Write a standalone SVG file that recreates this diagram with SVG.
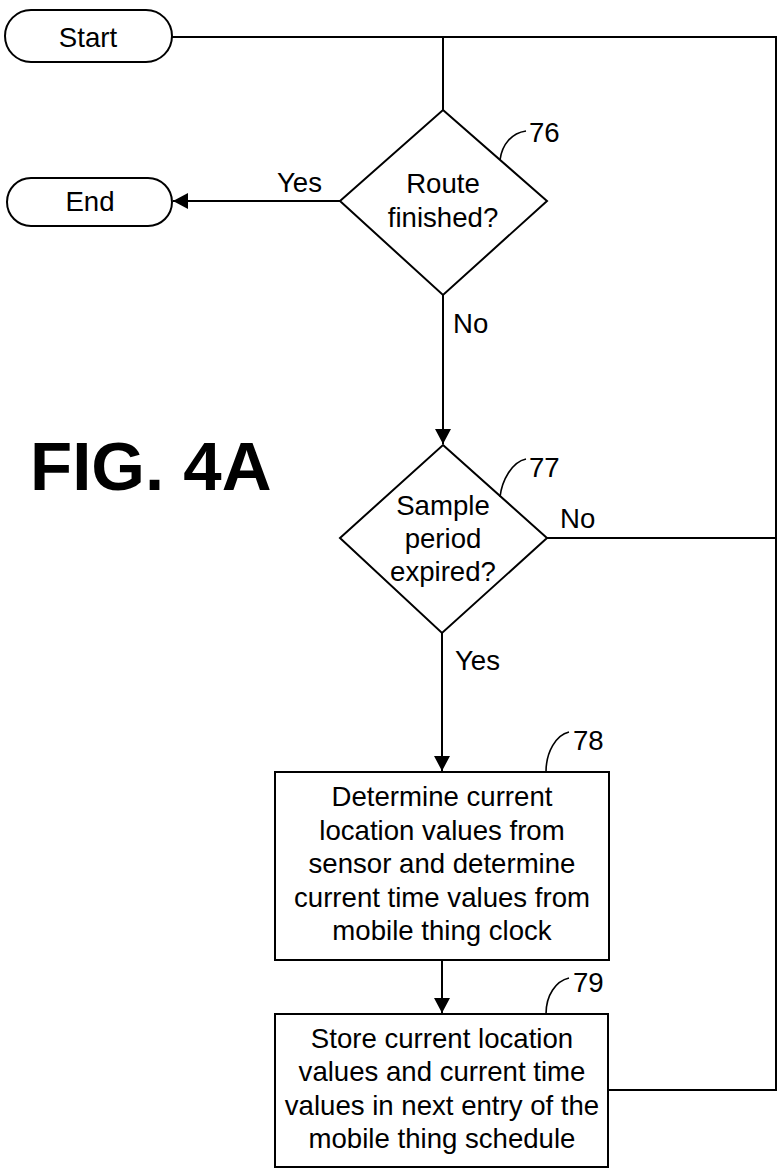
<svg xmlns="http://www.w3.org/2000/svg" width="778" height="1170" viewBox="0 0 778 1170">
<style>
.s{fill:#fff;stroke:#000;stroke-width:2}
.c{fill:none;stroke:#000;stroke-width:2}
.l{fill:none;stroke:#000;stroke-width:1.6}
text{font-family:"Liberation Sans",Arial,sans-serif;font-size:27.6px;fill:#000}
.m{text-anchor:middle}
.fig{font-weight:bold;font-size:69px}
</style>
<defs>
<marker id="a" markerWidth="16" markerHeight="16" refX="15" refY="8" orient="auto" markerUnits="userSpaceOnUse">
<path d="M0,0 L15,8 L0,16 Z" fill="#000"/>
</marker>
</defs>
<rect width="778" height="1170" fill="#fff"/>
<g id="connectors">
<path class="c" d="M172,37 H776 V1090 H608"/>
<path class="c" d="M443,37 V110"/>
<path class="c" d="M547,538 H776"/>
<path class="c" d="M340,201 H173" marker-end="url(#a)"/>
<path class="c" d="M443,295 V444" marker-end="url(#a)"/>
<path class="c" d="M442,633 V771" marker-end="url(#a)"/>
<path class="c" d="M442,960 V1013" marker-end="url(#a)"/>
<text x="277" y="192">Yes</text>
<text x="453" y="333">No</text>
<text x="560" y="528">No</text>
<text x="455" y="670">Yes</text>
</g>
<g id="start">
<rect class="s" x="5" y="10" width="167" height="52" rx="26"/>
<text class="m" x="88" y="47">Start</text>
</g>
<g id="end">
<rect class="s" x="7" y="178" width="165" height="48" rx="24"/>
<text class="m" x="90" y="211">End</text>
</g>
<g id="n76">
<polygon class="s" points="443,110 547,201 443,295 340,201"/>
<text class="m" x="443" y="193">Route</text>
<text class="m" x="443" y="227">finished?</text>
<path class="l" d="M500,160 C502,144 512,133 526,131"/>
<text x="529" y="142">76</text>
</g>
<g id="n77">
<polygon class="s" points="443,445 547,538 442,633 340,538"/>
<text class="m" x="443" y="515">Sample</text>
<text class="m" x="443" y="548">period</text>
<text class="m" x="443" y="581">expired?</text>
<path class="l" d="M500,497 C502,480 512,462 526,459"/>
<text x="529" y="477">77</text>
</g>
<g id="n78">
<rect class="s" x="275" y="772" width="334" height="188"/>
<text class="m" x="442" y="806">Determine current</text>
<text class="m" x="442" y="840">location values from</text>
<text class="m" x="442" y="873">sensor and determine</text>
<text class="m" x="442" y="907">current time values from</text>
<text class="m" x="442" y="940">mobile thing clock</text>
<path class="l" d="M546,772 C546,752 556,735 569,732"/>
<text x="573" y="750">78</text>
</g>
<g id="n79">
<rect class="s" x="275" y="1014" width="333" height="153"/>
<text class="m" x="442" y="1048">Store current location</text>
<text class="m" x="442" y="1081">values and current time</text>
<text class="m" x="442" y="1115">values in next entry of the</text>
<text class="m" x="442" y="1148">mobile thing schedule</text>
<path class="l" d="M546,1014 C546,995 556,981 569,978"/>
<text x="573" y="992">79</text>
</g>
<text class="fig" x="30" y="490">FIG. 4A</text>
</svg>
